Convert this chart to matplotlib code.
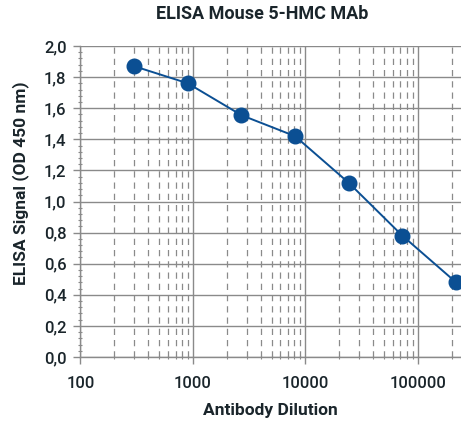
import numpy as np
import matplotlib
matplotlib.use('Agg')
import matplotlib.pyplot as plt
from matplotlib.ticker import LogLocator, MultipleLocator, FixedFormatter, FixedLocator

plt.rcParams['font.family'] = ['Roboto', 'DejaVu Sans']

# 3-fold dilution series
dilution = [300, 900, 2700, 8100, 24300, 72900, 218700]
signal   = [1.87, 1.76, 1.555, 1.42, 1.12, 0.78, 0.48]

xticks = [100, 1000, 10000, 100000]
xlabels = ['100', '1000', '10000', '100000']
yticks = [0.0, 0.2, 0.4, 0.6, 0.8, 1.0, 1.2, 1.4, 1.6, 1.8, 2.0]
ylabels = ['%.1f' % v for v in yticks]
ylabels = [s.replace('.', ',') for s in ylabels]

blue = '#0b4f93'
grid = '#8a8a8a'
txt = '#1a252b'

fig = plt.figure(figsize=(4.61, 4.29), dpi=100)
ax = fig.add_axes([0.1746, 0.1678, 0.8254, 0.725])

ax.set_xscale('log')
ax.set_xlim(100, 242000)
ax.set_ylim(0, 2.0)

ax.plot(dilution, signal, c=blue, lw=1.4, marker='o', ms=10.5, mfc=blue, mec=blue, zorder=5)

ax.xaxis.set_major_locator(FixedLocator(xticks))
ax.xaxis.set_major_formatter(FixedFormatter(xlabels))
ax.xaxis.set_minor_locator(LogLocator(base=10, subs=np.arange(2, 10), numticks=20))
ax.xaxis.set_minor_formatter(FixedFormatter([]))
ax.set_yticks(yticks)
ax.set_yticklabels(ylabels)
ax.yaxis.set_minor_locator(MultipleLocator(0.04))

ax.grid(True, which='major', axis='both', color=grid, lw=1.0, ls='-')
ax.grid(True, which='minor', axis='x', color=grid, lw=0.9, ls=(0, (5, 4)))

for s in ['top', 'right']:
	ax.spines[s].set_visible(False)
for s in ['left', 'bottom']:
	ax.spines[s].set_color(grid)
	ax.spines[s].set_linewidth(1.0)

ax.tick_params(which='major', length=5, color=grid, width=1.0, labelsize=12, labelcolor=txt, pad=5)
ax.tick_params(which='minor', length=3, color=grid, width=0.8, direction='inout')
ax.tick_params(axis='x', which='major', pad=9)
for lab in ax.get_xticklabels() + ax.get_yticklabels():
	lab.set_fontweight('medium')

ax.set_xlabel('Antibody Dilution', fontsize=12.5, fontweight='bold', color=txt, labelpad=8)
ax.set_ylabel('ELISA Signal (OD 450 nm)', fontsize=12.5, fontweight='bold', color=txt)
ax.yaxis.set_label_coords(-0.135, 0.56)
fig.text(262 / 461., 1 - 14 / 429., 'ELISA Mouse 5-HMC MAb', ha='center', va='center',
	fontsize=13, fontweight='bold', color=txt)

fig.savefig('out.png', dpi=100)
